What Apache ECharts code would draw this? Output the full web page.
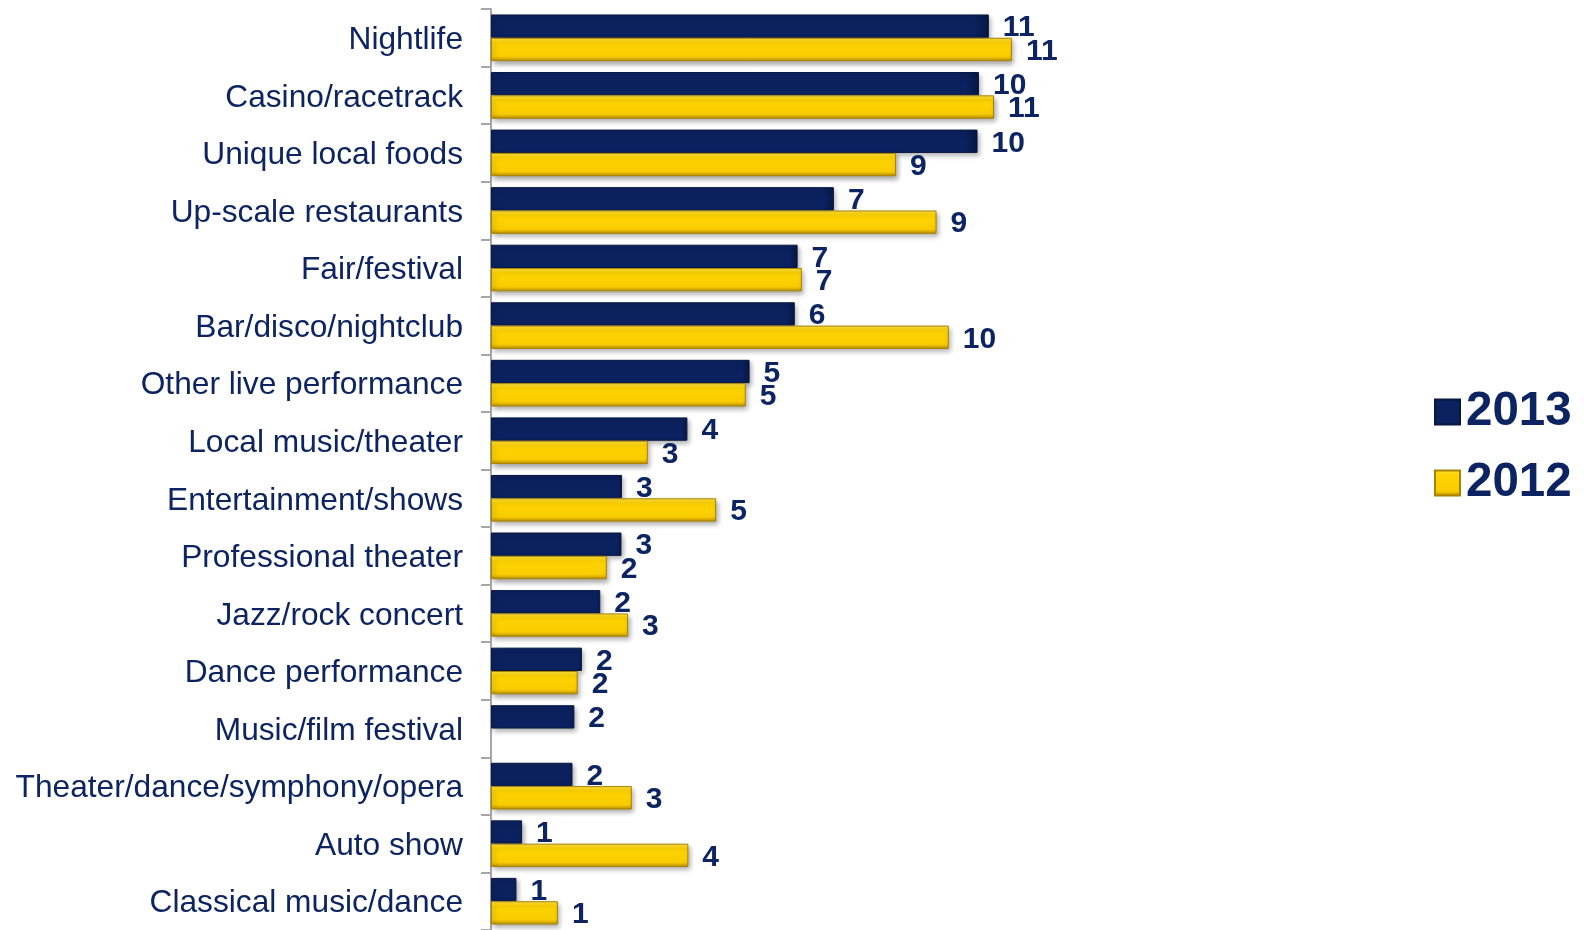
<!DOCTYPE html>
<html>
<head>
<meta charset="utf-8">
<script src="https://cdn.jsdelivr.net/npm/echarts@6/dist/echarts.min.js"></script>
<style>
html,body{margin:0;padding:0;background:#fff;}
#c{width:1584px;height:930px;}
</style>
</head>
<body>
<div id="c"></div>
<script>
const categories = [
  "Nightlife", "Casino/racetrack", "Unique local foods", "Up-scale restaurants",
  "Fair/festival", "Bar/disco/nightclub", "Other live performance", "Local music/theater",
  "Entertainment/shows", "Professional theater", "Jazz/rock concert", "Dance performance",
  "Music/film festival", "Theater/dance/symphony/opera", "Auto show", "Classical music/dance"
];
const values2013 = [10.57, 10.36, 10.33, 7.28, 6.51, 6.45, 5.49, 4.17, 2.78, 2.77, 2.32, 1.93, 1.77, 1.73, 0.66, 0.54];
const values2012 = [11.06, 10.68, 8.60, 9.46, 6.60, 9.72, 5.41, 3.33, 4.78, 2.46, 2.91, 1.84, null, 2.99, 4.19, 1.42];
const seriesNames = ["2013", "2012"];

const navy = '#0d2462';
const chart = echarts.init(document.getElementById('c'));

const labelCfg = {
  show: true,
  position: 'right',
  distance: 14,
  offset: [0, 2],
  fontFamily: 'Liberation Sans',
  fontWeight: 'bold',
  fontSize: 30,
  color: navy,
  formatter: p => (p.value == null ? '' : String(Math.round(p.value)))
};

chart.setOption({
  animation: false,
  grid: { left: 491, top: 9, width: 942, bottom: -4, containLabel: false },
  legend: {
    data: seriesNames,
    orient: 'vertical',
    left: 1429,
    top: 383,
    icon: 'rect',
    itemWidth: 25,
    itemHeight: 25,
    itemGap: 23,
    textStyle: { fontFamily: 'Liberation Sans', fontWeight: 'bold', fontSize: 47.5, lineHeight: 47, color: navy, padding: [0, 0, 0, 1] }
  },
  xAxis: {
    type: 'value', min: 0, max: 20,
    show: false
  },
  yAxis: {
    type: 'category',
    data: categories,
    inverse: true,
    axisLine: { show: true, lineStyle: { color: '#a6a6a6', width: 2 } },
    axisTick: { show: true, length: 10, lineStyle: { color: '#a6a6a6', width: 2 } },
    axisLabel: {
      margin: 28, color: navy,
      formatter: v => '{t|' + v + '}',
      rich: { t: { fontFamily: 'Liberation Sans', fontSize: 31.7, color: navy, padding: [5, 0, 0, 0] } }
    },
    splitLine: { show: false }
  },
  series: [
    {
      name: seriesNames[0], type: 'bar', data: values2013,
      barGap: '0%', barCategoryGap: '19%',
      itemStyle: {
        color: new echarts.graphic.LinearGradient(0, 0, 1, 0, [
          { offset: 0, color: '#0c2260' }, { offset: 0.97, color: '#0c2260' }, { offset: 1, color: '#061846' }
        ]),
        borderColor: '#07173f', borderWidth: 1,
        shadowColor: 'rgba(0,0,0,0.35)', shadowBlur: 5, shadowOffsetX: 2, shadowOffsetY: 3
      },
      label: labelCfg
    },
    {
      name: seriesNames[1], type: 'bar', data: values2012,
      barGap: '0%', barCategoryGap: '19%',
      itemStyle: {
        color: new echarts.graphic.LinearGradient(0, 0, 0, 1, [
          { offset: 0, color: '#ffe14a' }, { offset: 0.2, color: '#ffd500' },
          { offset: 0.8, color: '#f8cc00' }, { offset: 1, color: '#b98e00' }
        ]),
        borderColor: '#a88200', borderWidth: 1,
        shadowColor: 'rgba(0,0,0,0.35)', shadowBlur: 5, shadowOffsetX: 2, shadowOffsetY: 3
      },
      label: labelCfg
    }
  ]
});
</script>
</body>
</html>
